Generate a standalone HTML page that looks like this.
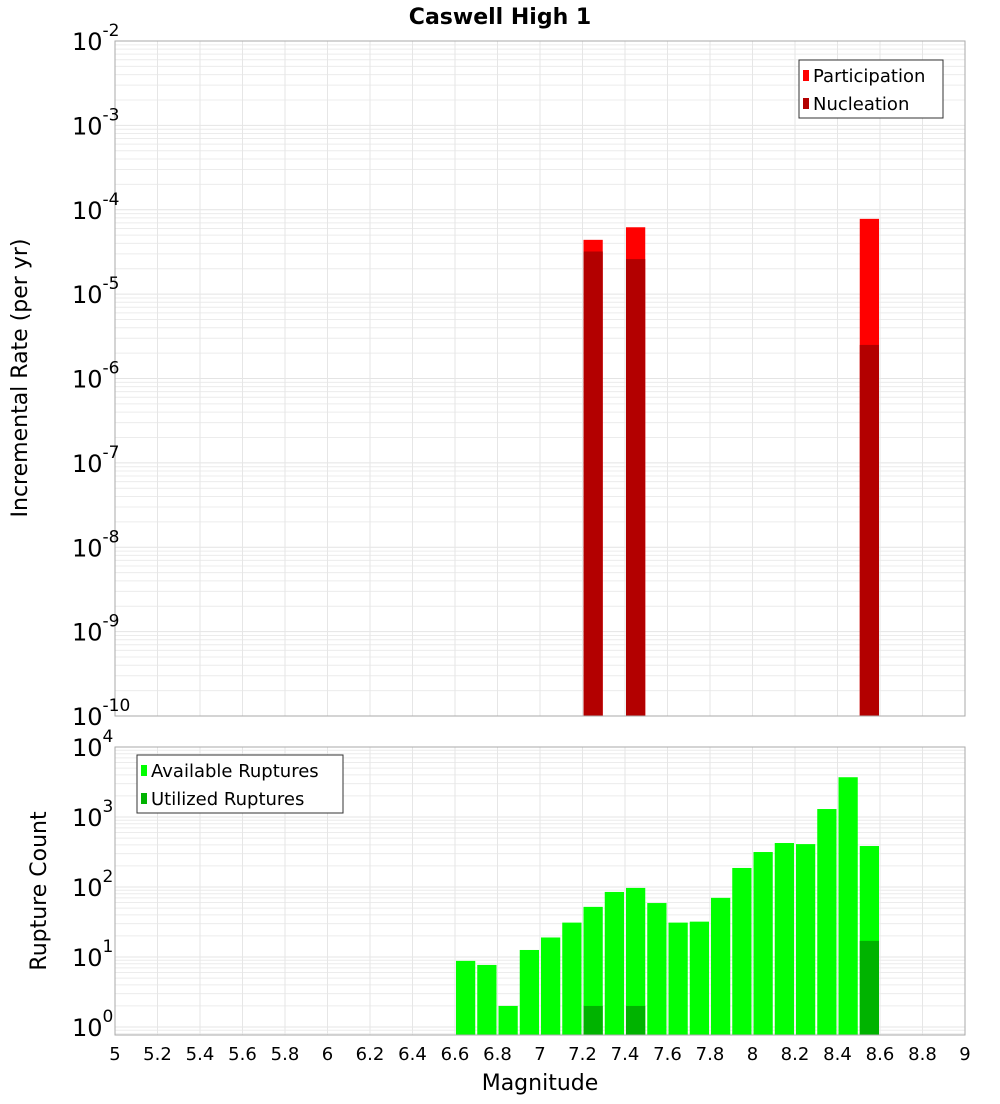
<!DOCTYPE html>
<html><head><meta charset="utf-8"><style>
body{margin:0;background:#fff;font-family:"DejaVu Sans","Liberation Sans",sans-serif}
svg text{font-family:"DejaVu Sans","Liberation Sans",sans-serif}
</style></head><body>
<svg id="c" width="1000" height="1100" xmlns="http://www.w3.org/2000/svg">
<text x="500" y="24" text-anchor="middle" font-size="22" font-weight="bold">Caswell High 1</text>
<g id="topPanel"></g><g id="botPanel"></g>
<text transform="translate(27,378) rotate(-90)" text-anchor="middle" font-size="22">Incremental Rate (per yr)</text>
<text transform="translate(46,891) rotate(-90)" text-anchor="middle" font-size="22">Rupture Count</text>
<text x="540" y="1090" text-anchor="middle" font-size="22">Magnitude</text>
</svg>
<script>
const magBins=[6.65,6.75,6.85,6.95,7.05,7.15,7.25,7.35,7.45,7.55,7.65,7.75,7.85,7.95,8.05,8.15,8.25,8.35,8.45,8.55];
const available=[8.8,7.7,2,12.6,19,31,52,85,97,59,31,32,70,187,316,425,410,1300,3700,385];
const utilizedBins=[7.25,7.45,8.55];
const utilized=[2,2,17];
const rateBins=[7.25,7.45,8.55];
const participation=[4.4e-5,6.2e-5,7.8e-5];
const nucleation=[3.2e-5,2.6e-5,2.5e-6];
const xTicks=["5","5.2","5.4","5.6","5.8","6","6.2","6.4","6.6","6.8","7","7.2","7.4","7.6","7.8","8","8.2","8.4","8.6","8.8","9"];
const topExp=[-10,-9,-8,-7,-6,-5,-4,-3,-2];
const botExp=[0,1,2,3,4];
const NS="http://www.w3.org/2000/svg";
const X0=115,X1=965;
const xs=m=>X0+(m-5)/4*(X1-X0);
const yTop=v=>41+(-2-Math.log10(v))*(675/8);
const yBot=v=>1027-Math.log10(v)*70;
function mk(p,t,a){const e=document.createElementNS(NS,t);for(const k in a)e.setAttribute(k,a[k]);p.appendChild(e);return e;}
function panel(g,y0,y1,yf,emin,emax,name){
  const bg=mk(g,'rect',{x:X0,y:y0,width:X1-X0,height:y1-y0,fill:'#fff'});
  
  
  for(let e=emin-1;e<=emax;e++)for(let k=1;k<=9;k++){const y=yf(k*Math.pow(10,e));if(y<y0||y>y1)continue;
    const l=mk(g,'line',{x1:X0,x2:X1,y1:y,y2:y,stroke:k==1?'#e4e4e4':'#ececec','stroke-width':1});
    
    }
  xTicks.forEach(t=>{const x=xs(+t);
    const l=mk(g,'line',{x1:x,x2:x,y1:y0,y2:y1,stroke:'#e6e6e6','stroke-width':1});
    
    });
}
function bar(g,m,v,yf,ybase,col,name){const x=xs(m-0.05)+1,w=xs(m+0.05)-xs(m-0.05)-2,y=yf(v);
  const r=mk(g,'rect',{x:x,y:y,width:w,height:ybase-y,fill:col});
  
  }
function frame(g,y0,y1,name){const r=mk(g,'rect',{x:X0,y:y0,width:X1-X0,height:y1-y0,fill:'none',stroke:'#aaa','stroke-width':1});
  
  }
function ylab(g,e,y,name){const t=mk(g,'text',{x:72,y:y+9,'font-size':24});t.textContent='10';
  const s=mk(t,'tspan',{dy:-14,'font-size':17});s.textContent=String(e);
  
  }
function legend(g,x,y,w,items,name){const r=mk(g,'rect',{x:x,y:y,width:w,height:58,fill:'#fff',stroke:'#333','stroke-width':1});
  
  
  items.forEach((it,i)=>{const s=mk(g,'rect',{x:x+4,y:y+10+i*28,width:6,height:11,fill:it[1]});
    
    
    const t=mk(g,'text',{x:x+14,y:y+22+i*28,'font-size':18});t.textContent=it[0];
    
    });}
const topG=document.getElementById('topPanel'),botG=document.getElementById('botPanel');
panel(topG,41,716,yTop,-10,-2,'top');
rateBins.forEach((m,i)=>{bar(topG,m,participation[i],yTop,716,'#ff0000','participation-bar');bar(topG,m,nucleation[i],yTop,716,'#b30000','nucleation-bar');});
frame(topG,41,716,'top');
topExp.forEach(e=>ylab(topG,e,yTop(Math.pow(10,e)),'top'));
legend(topG,799,60,144,[['Participation','#ff0000'],['Nucleation','#b30000']],'rate-legend');
panel(botG,747,1035,yBot,0,4,'bottom');
magBins.forEach((m,i)=>bar(botG,m,available[i],yBot,1035,'#00ff00','available-bar'));
utilizedBins.forEach((m,i)=>bar(botG,m,utilized[i],yBot,1035,'#00b300','utilized-bar'));
frame(botG,747,1035,'bottom');
botExp.forEach(e=>ylab(botG,e,yBot(Math.pow(10,e)),'bottom'));
legend(botG,137,755,206,[['Available Ruptures','#00ff00'],['Utilized Ruptures','#00b300']],'count-legend');
xTicks.forEach(t=>{const x=xs(+t);const e=mk(botG,'text',{x:x,y:1060,'text-anchor':'middle','font-size':18});e.textContent=t;
  
  });
</script>
</body></html>
